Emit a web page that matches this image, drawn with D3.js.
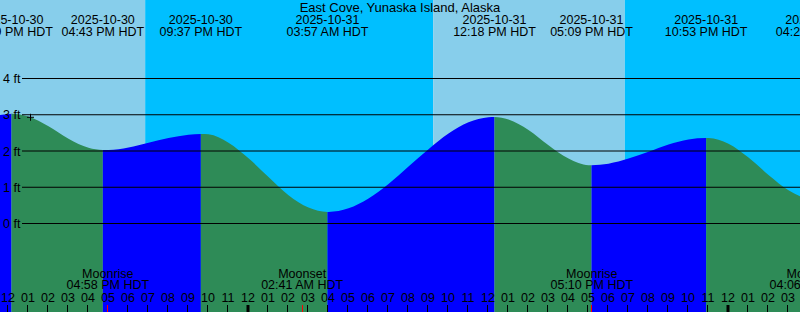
<!DOCTYPE html>
<html>
<head>
<meta charset="utf-8">
<script src="https://cdn.jsdelivr.net/npm/d3@7"></script>
<style>
  body { margin: 0; background: #fff; }
  svg { display: block; font-family: "Liberation Sans", Arial, sans-serif; }
</style>
</head>
<body>
<div id="chart"></div>
<script>
const width = 800;
const height = 312;

const title = "East Cove, Yunaska Island, Alaska";

// tide extremes (high / low)
const tideTimes = ["2025-10-30 12:09", "2025-10-30 16:43", "2025-10-30 21:37", "2025-10-31 03:57",
                   "2025-10-31 12:18", "2025-10-31 17:09", "2025-10-31 22:53", "2025-11-01 04:25"];
const tideHeights = [3.03, 2.03, 2.47, 0.32, 2.94, 1.61, 2.36, 0.66];

// hourly heights, from 2025-10-30 11:00
const readingStart = "2025-10-30 11:00";
const hourlyHeights = [2.96, 3.02, 2.95, 2.68, 2.34, 2.09, 2.03, 2.10, 2.23, 2.36, 2.45, 2.46, 2.23,
                       1.80, 1.28, 0.78, 0.44, 0.32, 0.42, 0.69, 1.09, 1.57, 2.05, 2.48, 2.79, 2.93,
                       2.87, 2.58, 2.16, 1.79, 1.61, 1.65, 1.79, 1.98, 2.18, 2.32, 2.36, 2.20, 1.82,
                       1.34, 0.92, 0.68];

// sunset / sunrise (starts in daylight)
const sunTimes = ["2025-10-30 18:50", "2025-10-31 09:14", "2025-10-31 18:49"];

const moonTimes = ["2025-10-30 16:58", "2025-10-31 02:41", "2025-10-31 17:10", "2025-11-01 04:06"];
const moonKinds = ["Moonrise", "Moonset", "Moonrise", "Moonset"];

const nowTime = "2025-10-30 13:06";
const nowHeight = 2.93;

const feetTicks = [0, 1, 2, 3, 4];
const viewStart = "2025-10-30 11:34:30";
const viewEnd = "2025-11-01 03:34:30";

const fontSize = 12.5;

const parse = d3.utcParse("%Y-%m-%d %H:%M");
const parseS = d3.utcParse("%Y-%m-%d %H:%M:%S");
const fmtDate = d3.utcFormat("%Y-%m-%d");
const fmtTime = d => d3.utcFormat("%I:%M %p")(d) + " HDT";

const x = d3.scaleUtc().domain([parseS(viewStart), parseS(viewEnd)]).range([0, width]);
const y = d3.scaleLinear().domain([0, 4]).range([223.5, 78.5]);

const events = tideTimes.map((t, i) => ({t: parse(t), h: tideHeights[i]}));
const start = parse(readingStart);
const readings = hourlyHeights.map((h, i) => ({t: d3.utcHour.offset(start, i), h}));
const curveData = readings.concat(events).sort((a, b) => a.t - b.t);

const svg = d3.select("#chart").append("svg")
    .attr("width", width)
    .attr("height", height);

// day / night background
const sunBounds = [x.domain()[0], ...sunTimes.map(parse), x.domain()[1]];
svg.append("g").selectAll("rect")
    .data(d3.pairs(sunBounds))
    .join("rect")
    .attr("x", d => x(d[0]))
    .attr("width", d => x(d[1]) - x(d[0]))
    .attr("y", 0)
    .attr("height", height)
    .attr("fill", (d, i) => i % 2 === 0 ? "#87ceeb" : "#00bfff");

// water, blue when rising and green when falling
const area = d3.area()
    .x(d => x(d.t))
    .y0(height)
    .y1(d => y(d.h))
    .curve(d3.curveMonotoneX);

const tideBounds = [d3.utcHour.offset(x.domain()[0], -2), ...events.map(d => d.t), d3.utcHour.offset(x.domain()[1], 2)];
const defs = svg.append("defs");
const water = svg.append("g");
d3.pairs(tideBounds).forEach((seg, i) => {
    const next = events[i];
    const prev = events[i - 1];
    let rising;
    if (next && prev) rising = next.h > prev.h;
    else if (next) rising = next.h > events[i + 1].h;
    else rising = prev.h < events[i - 2].h;
    defs.append("clipPath").attr("id", "seg" + i)
        .append("rect")
        .attr("x", x(seg[0]))
        .attr("width", x(seg[1]) - x(seg[0]))
        .attr("y", 0)
        .attr("height", height);
    water.append("path")
        .datum(curveData)
        .attr("clip-path", `url(#seg${i})`)
        .attr("fill", rising ? "#0000ff" : "#2e8b57")
        .attr("d", area);
});

// feet grid
const grid = svg.append("g");
grid.selectAll("line")
    .data(feetTicks)
    .join("line")
    .attr("x1", 22)
    .attr("x2", width)
    .attr("y1", d => y(d))
    .attr("y2", d => y(d))
    .attr("stroke", "#000")
    .attr("stroke-width", 1);
grid.selectAll("text")
    .data(feetTicks)
    .join("text")
    .attr("x", 3)
    .attr("y", d => y(d) + 4.5)
    .attr("font-size", fontSize)
    .text(d => d + " ft");

// title
svg.append("text")
    .attr("x", width / 2)
    .attr("y", 11.5)
    .attr("text-anchor", "middle")
    .attr("font-size", 13)
    .text(title);

// tide event labels
const topLabels = svg.append("g").attr("text-anchor", "middle").attr("font-size", fontSize);
topLabels.selectAll("text.d")
    .data(events)
    .join("text")
    .attr("class", "d")
    .attr("x", d => x(d.t))
    .attr("y", 24)
    .text(d => fmtDate(d.t));
topLabels.selectAll("text.t")
    .data(events)
    .join("text")
    .attr("class", "t")
    .attr("x", d => x(d.t))
    .attr("y", 36)
    .text(d => fmtTime(d.t));

// current time marker
const nx = x(parse(nowTime)), ny = y(nowHeight);
svg.append("path")
    .attr("d", `M${nx - 3.5},${ny}H${nx + 3.5}M${nx},${ny - 3.5}V${ny + 3.5}`)
    .attr("stroke", "#000")
    .attr("stroke-width", 1);

// moon labels
const moons = moonTimes.map((t, i) => ({t: parse(t), kind: moonKinds[i]}));
const bottomLabels = svg.append("g").attr("text-anchor", "middle").attr("font-size", fontSize);
bottomLabels.selectAll("text.k")
    .data(moons)
    .join("text")
    .attr("class", "k")
    .attr("x", d => x(d.t))
    .attr("y", 278)
    .text(d => d.kind);
bottomLabels.selectAll("text.t")
    .data(moons)
    .join("text")
    .attr("class", "t")
    .attr("x", d => x(d.t))
    .attr("y", 289)
    .text(d => fmtTime(d.t));

// hour axis
const hours = d3.utcHour.range(d3.utcHour.floor(x.domain()[0]), x.domain()[1]);
const hourAxis = svg.append("g");
hourAxis.selectAll("text")
    .data(hours)
    .join("text")
    .attr("x", d => Math.floor(x(d)))
    .attr("y", 301.5)
    .attr("text-anchor", "middle")
    .attr("font-size", fontSize)
    .text(d => d3.utcFormat("%I")(d));
hourAxis.selectAll("line.hr")
    .data(hours)
    .join("line")
    .attr("class", "hr")
    .attr("x1", d => d.getUTCHours() === 0 ? Math.floor(x(d)) : Math.floor(x(d)) - 0.5)
    .attr("x2", d => d.getUTCHours() === 0 ? Math.floor(x(d)) : Math.floor(x(d)) - 0.5)
    .attr("y1", 305)
    .attr("y2", height)
    .attr("stroke", "#000")
    .attr("stroke-width", d => d.getUTCHours() === 0 ? 3 : 1);
hourAxis.selectAll("line.moon")
    .data(moons)
    .join("line")
    .attr("class", "moon")
    .attr("x1", d => Math.floor(x(d.t)) + 0.5)
    .attr("x2", d => Math.floor(x(d.t)) + 0.5)
    .attr("y1", 305)
    .attr("y2", height)
    .attr("stroke", "red")
    .attr("stroke-width", 1);
</script>
</body>
</html>
